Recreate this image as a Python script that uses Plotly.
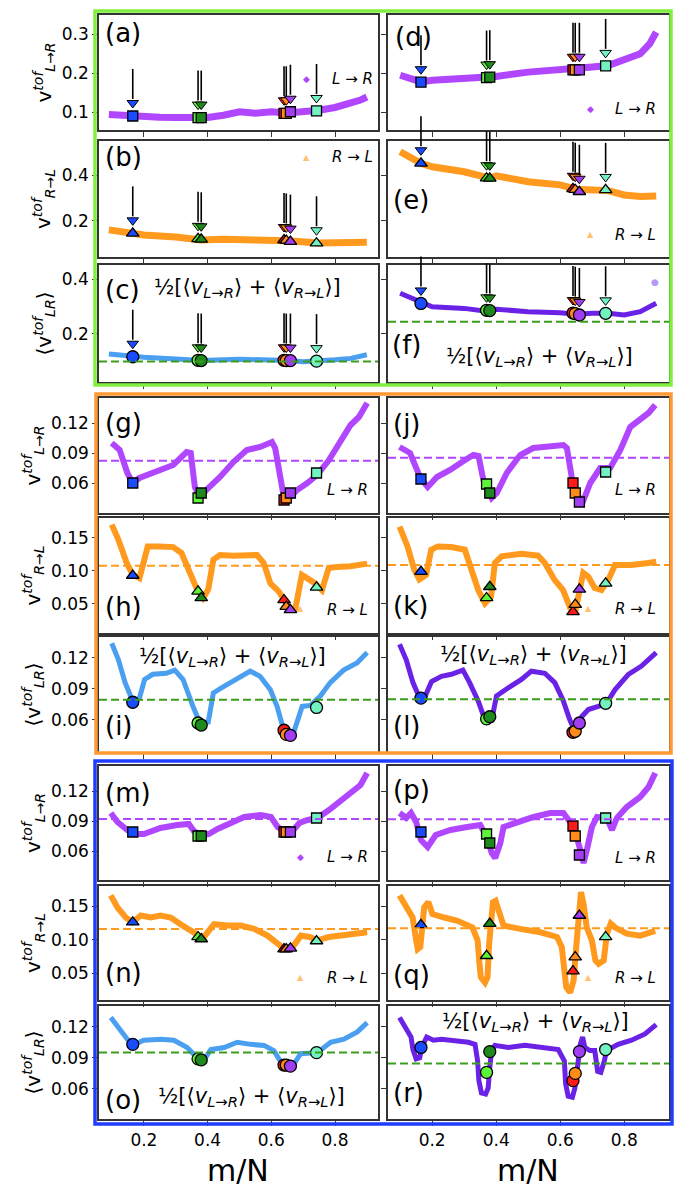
import plotly.graph_objects as go

W, H = 685, 1200

# ---------------- data ----------------
MARK_X = [0.165, 0.37, 0.38, 0.64, 0.647, 0.66, 0.742]
MARK_COLORS = ["#1b4bff", "#5ef23a", "#1e8a1e", "#ff1a1a", "#ff8c1a", "#a23ef2", "#72f2c0"]

LR_COLOR = "#b146ff"
RL_COLOR = "#ff9a1e"
AVG_COLOR_L = "#4b9ff0"
AVG_COLOR_R = "#6a22e6"
REF_GREEN = "#3a9e1c"

a_x = [0.09, 0.15, 0.2, 0.25, 0.3, 0.35, 0.4, 0.45, 0.5, 0.55, 0.6, 0.65, 0.7, 0.75, 0.8, 0.85, 0.88, 0.9]
a_y = [0.094, 0.090, 0.088, 0.087, 0.086, 0.085, 0.086, 0.092, 0.101, 0.097, 0.101, 0.098, 0.101, 0.105, 0.112, 0.122, 0.131, 0.139]
a_m = [0.090, 0.086, 0.086, 0.097, 0.097, 0.101, 0.103]

b_x = [0.09, 0.165, 0.2, 0.3, 0.38, 0.45, 0.5, 0.6, 0.65, 0.75, 0.8, 0.9]
b_y = [0.161, 0.148, 0.139, 0.130, 0.117, 0.120, 0.120, 0.117, 0.114, 0.104, 0.104, 0.107]
b_m = [0.146, 0.122, 0.120, 0.117, 0.115, 0.110, 0.103]

c_x = [0.09, 0.165, 0.2, 0.3, 0.38, 0.5, 0.6, 0.65, 0.7, 0.75, 0.8, 0.85, 0.9]
c_y = [0.127, 0.117, 0.115, 0.109, 0.103, 0.108, 0.106, 0.103, 0.099, 0.101, 0.106, 0.111, 0.124]
c_m = [0.117, 0.104, 0.103, 0.104, 0.103, 0.103, 0.101]
c_ref = 0.100

d_x = [0.1, 0.165, 0.2, 0.3, 0.38, 0.4, 0.5, 0.6, 0.65, 0.7, 0.75, 0.8, 0.85, 0.88, 0.9]
d_y = [0.195, 0.178, 0.182, 0.186, 0.190, 0.192, 0.203, 0.208, 0.210, 0.216, 0.220, 0.233, 0.250, 0.276, 0.306]
d_m = [0.177, 0.189, 0.190, 0.209, 0.209, 0.209, 0.219]

e_x = [0.1, 0.165, 0.2, 0.25, 0.3, 0.38, 0.4, 0.5, 0.6, 0.65, 0.7, 0.75, 0.8, 0.85, 0.9]
e_y = [0.501, 0.451, 0.436, 0.425, 0.414, 0.386, 0.396, 0.371, 0.357, 0.338, 0.335, 0.332, 0.313, 0.306, 0.309]
e_m = [0.451, 0.386, 0.385, 0.340, 0.336, 0.327, 0.335]

f_x = [0.1, 0.165, 0.2, 0.3, 0.38, 0.4, 0.5, 0.6, 0.65, 0.7, 0.75, 0.8, 0.85, 0.9]
f_y = [0.348, 0.314, 0.299, 0.293, 0.281, 0.290, 0.281, 0.277, 0.272, 0.275, 0.275, 0.269, 0.281, 0.312]
f_m = [0.311, 0.286, 0.285, 0.276, 0.274, 0.269, 0.275]
f_ref = 0.244

g_x = [0.099, 0.124, 0.148, 0.165, 0.186, 0.239, 0.292, 0.334, 0.347, 0.36, 0.376, 0.402, 0.439, 0.481, 0.523, 0.565, 0.602, 0.612, 0.628, 0.641, 0.66, 0.681, 0.713, 0.744, 0.781, 0.817, 0.849, 0.875, 0.901]
g_y = [0.100, 0.093, 0.070, 0.060, 0.065, 0.071, 0.078, 0.091, 0.090, 0.056, 0.046, 0.055, 0.066, 0.081, 0.093, 0.096, 0.101, 0.095, 0.066, 0.043, 0.046, 0.053, 0.060, 0.068, 0.083, 0.103, 0.118, 0.126, 0.140]
g_m = [0.060, 0.045, 0.050, 0.043, 0.045, 0.050, 0.070]
g_ref = 0.0823

h_x = [0.099, 0.12, 0.146, 0.165, 0.186, 0.202, 0.212, 0.249, 0.292, 0.318, 0.344, 0.365, 0.386, 0.402, 0.418, 0.439, 0.481, 0.523, 0.555, 0.576, 0.597, 0.623, 0.644, 0.66, 0.675, 0.686, 0.696, 0.712, 0.738, 0.759, 0.78, 0.806, 0.849, 0.901]
h_y = [0.170, 0.147, 0.112, 0.094, 0.089, 0.122, 0.137, 0.137, 0.136, 0.127, 0.097, 0.074, 0.059, 0.072, 0.117, 0.124, 0.123, 0.123, 0.124, 0.112, 0.081, 0.069, 0.051, 0.041, 0.042, 0.066, 0.094, 0.089, 0.081, 0.071, 0.104, 0.106, 0.107, 0.111]
h_m = [0.093, 0.069, 0.059, 0.056, 0.046, 0.041, 0.075]
h_ref = 0.1076

i_x = [0.099, 0.12, 0.141, 0.165, 0.186, 0.202, 0.228, 0.27, 0.297, 0.323, 0.354, 0.376, 0.402, 0.418, 0.45, 0.491, 0.534, 0.565, 0.597, 0.618, 0.639, 0.666, 0.681, 0.697, 0.723, 0.754, 0.785, 0.827, 0.869, 0.901]
i_y = [0.134, 0.118, 0.096, 0.078, 0.081, 0.099, 0.104, 0.105, 0.108, 0.099, 0.073, 0.057, 0.058, 0.086, 0.092, 0.100, 0.107, 0.102, 0.089, 0.073, 0.050, 0.044, 0.060, 0.073, 0.074, 0.083, 0.096, 0.108, 0.115, 0.125]
i_m = [0.077, 0.057, 0.055, 0.050, 0.046, 0.045, 0.072]
i_ref = 0.0794

j_x = [0.098, 0.131, 0.163, 0.186, 0.215, 0.256, 0.298, 0.329, 0.345, 0.36, 0.386, 0.402, 0.433, 0.475, 0.516, 0.558, 0.61, 0.621, 0.636, 0.654, 0.673, 0.694, 0.725, 0.756, 0.788, 0.819, 0.85, 0.876, 0.897]
j_y = [0.096, 0.090, 0.065, 0.056, 0.066, 0.073, 0.082, 0.088, 0.087, 0.063, 0.045, 0.050, 0.070, 0.088, 0.095, 0.096, 0.098, 0.095, 0.066, 0.046, 0.043, 0.060, 0.075, 0.075, 0.093, 0.116, 0.123, 0.130, 0.138]
j_m = [0.064, 0.059, 0.050, 0.060, 0.050, 0.041, 0.071]
j_ref = 0.0853

k_x = [0.098, 0.123, 0.144, 0.16, 0.181, 0.197, 0.218, 0.26, 0.302, 0.323, 0.344, 0.365, 0.384, 0.396, 0.417, 0.479, 0.531, 0.552, 0.583, 0.609, 0.631, 0.646, 0.656, 0.672, 0.688, 0.708, 0.729, 0.75, 0.771, 0.823, 0.875, 0.9]
k_y = [0.167, 0.137, 0.102, 0.087, 0.094, 0.132, 0.137, 0.136, 0.132, 0.102, 0.071, 0.051, 0.061, 0.112, 0.122, 0.126, 0.123, 0.112, 0.086, 0.071, 0.044, 0.036, 0.056, 0.097, 0.091, 0.074, 0.071, 0.086, 0.109, 0.109, 0.112, 0.114]
k_m = [0.099, 0.059, 0.076, 0.038, 0.049, 0.072, 0.081]
k_ref = 0.109

l_x = [0.098, 0.119, 0.14, 0.161, 0.177, 0.198, 0.229, 0.26, 0.296, 0.317, 0.344, 0.365, 0.386, 0.401, 0.438, 0.479, 0.51, 0.552, 0.583, 0.609, 0.63, 0.646, 0.667, 0.688, 0.719, 0.745, 0.771, 0.813, 0.854, 0.9]
l_y = [0.133, 0.118, 0.096, 0.081, 0.082, 0.097, 0.102, 0.104, 0.108, 0.096, 0.078, 0.060, 0.060, 0.083, 0.091, 0.099, 0.107, 0.105, 0.096, 0.079, 0.060, 0.049, 0.063, 0.070, 0.073, 0.076, 0.089, 0.104, 0.112, 0.125]
l_m = [0.081, 0.061, 0.063, 0.048, 0.049, 0.057, 0.076]
l_ref = 0.080

m_x = [0.096, 0.117, 0.148, 0.169, 0.2, 0.252, 0.304, 0.341, 0.357, 0.378, 0.404, 0.431, 0.473, 0.515, 0.567, 0.599, 0.62, 0.641, 0.667, 0.688, 0.714, 0.745, 0.781, 0.818, 0.849, 0.88, 0.901]
m_y = [0.098, 0.089, 0.081, 0.077, 0.077, 0.083, 0.086, 0.087, 0.080, 0.075, 0.077, 0.082, 0.088, 0.094, 0.096, 0.094, 0.084, 0.080, 0.080, 0.088, 0.091, 0.093, 0.101, 0.111, 0.118, 0.126, 0.138]
m_m = [0.079, 0.075, 0.075, 0.079, 0.079, 0.079, 0.093]
m_ref = 0.092

n_x = [0.096, 0.117, 0.143, 0.164, 0.19, 0.221, 0.252, 0.284, 0.315, 0.347, 0.373, 0.389, 0.404, 0.42, 0.462, 0.504, 0.546, 0.588, 0.62, 0.641, 0.667, 0.693, 0.72, 0.745, 0.781, 0.829, 0.871, 0.901]
n_y = [0.166, 0.148, 0.133, 0.126, 0.136, 0.133, 0.136, 0.133, 0.123, 0.113, 0.106, 0.104, 0.113, 0.123, 0.121, 0.121, 0.116, 0.106, 0.094, 0.086, 0.089, 0.106, 0.104, 0.099, 0.104, 0.106, 0.109, 0.111]
n_m = [0.126, 0.104, 0.101, 0.086, 0.086, 0.087, 0.098]
n_ref = 0.116

o_x = [0.096, 0.122, 0.148, 0.169, 0.2, 0.252, 0.294, 0.336, 0.367, 0.389, 0.41, 0.452, 0.493, 0.535, 0.577, 0.608, 0.63, 0.651, 0.671, 0.692, 0.718, 0.745, 0.786, 0.828, 0.87, 0.901]
o_y = [0.129, 0.119, 0.108, 0.103, 0.107, 0.108, 0.107, 0.100, 0.090, 0.088, 0.098, 0.100, 0.105, 0.103, 0.102, 0.097, 0.086, 0.083, 0.084, 0.094, 0.094, 0.095, 0.105, 0.108, 0.115, 0.124]
o_m = [0.103, 0.089, 0.088, 0.083, 0.083, 0.082, 0.095]
o_ref = 0.0952

p_x = [0.098, 0.119, 0.134, 0.15, 0.165, 0.186, 0.211, 0.257, 0.309, 0.35, 0.371, 0.386, 0.397, 0.413, 0.423, 0.465, 0.517, 0.569, 0.61, 0.631, 0.647, 0.663, 0.673, 0.684, 0.699, 0.715, 0.746, 0.762, 0.777, 0.808, 0.85, 0.876, 0.897]
p_y = [0.098, 0.093, 0.098, 0.089, 0.071, 0.064, 0.076, 0.081, 0.084, 0.086, 0.074, 0.058, 0.053, 0.068, 0.084, 0.089, 0.094, 0.098, 0.098, 0.089, 0.079, 0.061, 0.048, 0.062, 0.084, 0.094, 0.093, 0.081, 0.093, 0.104, 0.114, 0.124, 0.138]
p_m = [0.079, 0.077, 0.068, 0.085, 0.075, 0.056, 0.093]
p_ref = 0.0917

q_x = [0.098, 0.123, 0.139, 0.15, 0.155, 0.163, 0.167, 0.175, 0.188, 0.201, 0.238, 0.279, 0.326, 0.342, 0.347, 0.352, 0.365, 0.373, 0.378, 0.383, 0.39, 0.398, 0.408, 0.423, 0.475, 0.538, 0.59, 0.605, 0.612, 0.619, 0.631, 0.642, 0.65, 0.657, 0.665, 0.673, 0.683, 0.699, 0.71, 0.72, 0.736, 0.746, 0.758, 0.772, 0.808, 0.85, 0.881, 0.897]
q_y = [0.166, 0.148, 0.133, 0.099, 0.086, 0.089, 0.118, 0.148, 0.156, 0.138, 0.133, 0.128, 0.118, 0.099, 0.069, 0.044, 0.036, 0.044, 0.094, 0.128, 0.156, 0.158, 0.143, 0.121, 0.116, 0.111, 0.104, 0.089, 0.059, 0.029, 0.021, 0.039, 0.089, 0.143, 0.171, 0.153, 0.118, 0.099, 0.069, 0.064, 0.069, 0.109, 0.124, 0.118, 0.109, 0.106, 0.110, 0.113]
q_m = [0.122, 0.076, 0.124, 0.053, 0.074, 0.136, 0.104]
q_ref = 0.117

r_x = [0.098, 0.119, 0.134, 0.14, 0.15, 0.161, 0.167, 0.183, 0.204, 0.229, 0.271, 0.313, 0.334, 0.342, 0.346, 0.354, 0.367, 0.375, 0.38, 0.386, 0.396, 0.438, 0.49, 0.542, 0.594, 0.613, 0.617, 0.625, 0.638, 0.646, 0.654, 0.663, 0.67, 0.677, 0.693, 0.708, 0.717, 0.727, 0.738, 0.745, 0.781, 0.823, 0.865, 0.9]
r_y = [0.129, 0.119, 0.110, 0.098, 0.089, 0.090, 0.100, 0.110, 0.107, 0.108, 0.107, 0.105, 0.103, 0.087, 0.068, 0.056, 0.055, 0.061, 0.081, 0.097, 0.102, 0.100, 0.102, 0.100, 0.098, 0.087, 0.065, 0.053, 0.052, 0.061, 0.082, 0.103, 0.110, 0.100, 0.097, 0.097, 0.077, 0.076, 0.087, 0.097, 0.103, 0.107, 0.113, 0.122]
r_m = [0.100, 0.076, 0.096, 0.068, 0.075, 0.096, 0.098]
r_ref = 0.0845

X_TICKS = [0.2, 0.4, 0.6, 0.8]
X_TICKTEXT = ["0.2", "0.4", "0.6", "0.8"]
Y_TICKS = [[0.1, 0.2, 0.3], [0.2, 0.4], [0.2, 0.4],
           [0.06, 0.09, 0.12], [0.05, 0.10, 0.15], [0.06, 0.09, 0.12],
           [0.06, 0.09, 0.12], [0.05, 0.10, 0.15], [0.06, 0.09, 0.12]]
Y_TICKTEXT = [["0.1", "0.2", "0.3"], ["0.2", "0.4"], ["0.2", "0.4"],
              ["0.06", "0.09", "0.12"], ["0.05", "0.10", "0.15"], ["0.06", "0.09", "0.12"],
              ["0.06", "0.09", "0.12"], ["0.05", "0.10", "0.15"], ["0.06", "0.09", "0.12"]]
Y_RANGES = [[0.054, 0.35], [0.043, 0.548], [0.025, 0.451],
            [0.03, 0.145], [0.006, 0.18], [0.029, 0.14],
            [0.031, 0.145], [0.01, 0.18], [0.031, 0.14]]
X_RANGES = [[0.059, 0.935], [0.062, 0.94]]

# ---------------- layout geometry (px) ----------------
ROWS_PX = [(15, 130), (141, 257), (265, 382), (398, 513), (518, 633), (637, 752),
           (766, 880), (886, 1000), (1006, 1119)]
COLS_PX = [(99, 378), (388, 669)]
ARROW_TOP_PX, ARROW_END_PX, HEAD_PX = 47, 17, 13

LEFT = [("a", a_x, a_y, a_m, None), ("b", b_x, b_y, b_m, None), ("c", c_x, c_y, c_m, c_ref),
        ("g", g_x, g_y, g_m, g_ref), ("h", h_x, h_y, h_m, h_ref), ("i", i_x, i_y, i_m, i_ref),
        ("m", m_x, m_y, m_m, m_ref), ("n", n_x, n_y, n_m, n_ref), ("o", o_x, o_y, o_m, o_ref)]
RIGHT = [("d", d_x, d_y, d_m, None), ("e", e_x, e_y, e_m, None), ("f", f_x, f_y, f_m, f_ref),
         ("j", j_x, j_y, j_m, j_ref), ("k", k_x, k_y, k_m, k_ref), ("l", l_x, l_y, l_m, l_ref),
         ("p", p_x, p_y, p_m, p_ref), ("q", q_x, q_y, q_m, q_ref), ("r", r_x, r_y, r_m, r_ref)]

FONT = "DejaVu Sans"
FRAME = "#333333"

fig = go.Figure()
layout = dict(width=W, height=H, margin=dict(l=0, r=0, t=0, b=0),
              plot_bgcolor="white", paper_bgcolor="white", showlegend=False,
              font=dict(family=FONT, color="black"))
shapes, annotations = [], []


def px2paper_x(px):
    return px / W


def px2paper_y(py):
    return 1 - py / H


for col, panels in enumerate([LEFT, RIGHT]):
    for row, (lab, xs, ys, marks, ref) in enumerate(panels):
        n = col * 9 + row + 1
        xa = "x" if n == 1 else f"x{n}"
        ya = "y" if n == 1 else f"y{n}"
        x0, x1 = COLS_PX[col]
        y0, y1 = ROWS_PX[row]
        kind = row % 3
        layout["xaxis" if n == 1 else f"xaxis{n}"] = dict(
            domain=[px2paper_x(x0), px2paper_x(x1)], range=X_RANGES[col], anchor=ya,
            tickvals=X_TICKS, ticktext=X_TICKTEXT,
            showticklabels=(row == 8), ticks="outside", ticklen=5, tickwidth=1.2,
            tickcolor=FRAME, showline=True, mirror=True, linecolor=FRAME, linewidth=1.5,
            showgrid=False, zeroline=False, tickfont=dict(size=17, family=FONT))
        layout["yaxis" if n == 1 else f"yaxis{n}"] = dict(
            domain=[px2paper_y(y1), px2paper_y(y0)], range=Y_RANGES[row], anchor=xa,
            tickvals=Y_TICKS[row], ticktext=Y_TICKTEXT[row],
            showticklabels=(col == 0), ticks="outside", ticklen=5, tickwidth=1.2,
            tickcolor=FRAME, showline=True, mirror=True, linecolor=FRAME, linewidth=1.5,
            showgrid=False, zeroline=False, tickfont=dict(size=17, family=FONT))

        if kind == 0:
            lc, sym, msize, lw = LR_COLOR, "square", 10, 7
        elif kind == 1:
            lc, sym, msize, lw = RL_COLOR, "triangle-up", 11, 7
        else:
            lc, sym, msize, lw = (AVG_COLOR_L if col == 0 else AVG_COLOR_R), "circle", 12, 5
        if row >= 3 and kind != 2:
            lw = 6
        fig.add_trace(go.Scatter(x=xs, y=ys, xaxis=xa, yaxis=ya, mode="lines",
                                 line=dict(color=lc, width=lw, shape="linear"),
                                 hoverinfo="skip"))
        if ref is not None:
            rc = REF_GREEN if kind == 2 else lc
            shapes.append(dict(type="line", xref=f"{xa} domain", x0=0, x1=1,
                               yref=ya, y0=ref, y1=ref, layer="above",
                               line=dict(color=rc, width=2, dash="8px,4px")))
        fig.add_trace(go.Scatter(x=MARK_X, y=marks, xaxis=xa, yaxis=ya, mode="markers",
                                 marker=dict(symbol=sym, size=msize, color=MARK_COLORS,
                                             line=dict(color="black", width=1.3)),
                                 cliponaxis=False, hoverinfo="skip"))
        # arrows for top group (drawn in axis-domain units so they may cross panels)
        if row < 3:
            hpx = y1 - y0
            xr, yr = X_RANGES[col], Y_RANGES[row]
            for mx, my in zip(MARK_X, marks):
                xd = (mx - xr[0]) / (xr[1] - xr[0])
                yd = (my - yr[0]) / (yr[1] - yr[0])
                shapes.append(dict(type="line", xref=f"{xa} domain", yref=f"{ya} domain",
                                   x0=xd, x1=xd, y0=yd + ARROW_END_PX / hpx,
                                   y1=yd + ARROW_TOP_PX / hpx, layer="above",
                                   line=dict(color="black", width=1.6)))
            ppu = hpx / (yr[1] - yr[0])
            fig.add_trace(go.Scatter(x=MARK_X, y=[m + HEAD_PX / ppu for m in marks],
                                     xaxis=xa, yaxis=ya, mode="markers",
                                     marker=dict(symbol="triangle-down", size=10,
                                                 color=MARK_COLORS,
                                                 line=dict(color="black", width=1)),
                                     cliponaxis=False, hoverinfo="skip"))

# ---------------- texts ----------------
def txt(px, py, text, size, color="black", xanchor="center", angle=0):
    annotations.append(dict(x=px2paper_x(px), y=px2paper_y(py), xref="paper", yref="paper",
                            text=text, showarrow=False, xanchor=xanchor, yanchor="middle",
                            textangle=angle, font=dict(size=size, color=color, family=FONT)))

PANEL_LABEL_POS = {"a": (103, 33), "b": (103, 157), "c": (103, 290), "d": (393, 37),
                   "e": (391, 200), "f": (390, 345), "g": (103, 423), "h": (103, 607),
                   "i": (103, 726), "j": (391, 424), "k": (391, 606), "l": (391, 726),
                   "m": (103, 793), "n": (103, 973), "o": (103, 1100), "p": (391, 790),
                   "q": (391, 975), "r": (391, 1093)}
for k, (px, py) in PANEL_LABEL_POS.items():
    txt(px, py, f"({k})", 26, xanchor="left")

YT_LR = "v<sup><i>tof</i></sup><sub><i>L→R</i></sub>"
YT_RL = "v<sup><i>tof</i></sup><sub><i>R→L</i></sub>"
YT_AV = "⟨v<sup><i>tof</i></sup><sub><i>LR</i></sub>⟩"
for row, (y0, y1) in enumerate(ROWS_PX):
    t = [YT_LR, YT_RL, YT_AV][row % 3]
    txt(44 if row < 3 else 33, (y0 + y1) / 2, t, 20, angle=-90)

HALF = "½[⟨<i>v</i><sub><i>L→R</i></sub>⟩ + ⟨<i>v</i><sub><i>R→L</i></sub>⟩]"
for px, py in [(247, 288), (539, 357), (232, 657), (533, 655), (252, 1097), (535, 1022)]:
    txt(px, py, HALF, 21)

LR_TXT = "<i>L</i> → <i>R</i>"
RL_TXT = "<i>R</i> → <i>L</i>"
for px, py in [(352, 79), (635, 109), (347, 490), (635, 490), (347, 857), (635, 858)]:
    txt(px, py, LR_TXT, 15)
for px, py in [(352, 157), (635, 235), (347, 610), (635, 609), (347, 978), (635, 978)]:
    txt(px, py, RL_TXT, 15)
for px, py in [(306, 79), (590, 109), (300, 857)]:
    txt(px, py, "◆", 9, color=LR_COLOR)
for px, py in [(306, 157), (590, 235), (300, 608), (588, 608), (300, 978), (588, 978)]:
    txt(px, py, "▲", 8, color="#ffc070")
txt(655, 282, "●", 9, color="#b79af5")

txt(238, 1170, "m/N", 30)
txt(528, 1170, "m/N", 30)

# ---------------- group frames ----------------
for (gx0, gy0, gx1, gy1, gc) in [(95, 11, 671, 385, "#80f040"),
                                 (96, 394, 671, 753, "#ff9933"),
                                 (95, 761, 672, 1124, "#1f3dff")]:
    shapes.append(dict(type="rect", xref="paper", yref="paper",
                       x0=px2paper_x(gx0), x1=px2paper_x(gx1),
                       y0=px2paper_y(gy1), y1=px2paper_y(gy0),
                       line=dict(color=gc, width=3.5), fillcolor="rgba(0,0,0,0)",
                       layer="above"))

layout["shapes"] = shapes
layout["annotations"] = annotations
fig.update_layout(**layout)
fig.write_html("out.html", config={"displayModeBar": False},
               post_script="document.body.style.margin='0px';document.body.style.padding='0px';")
